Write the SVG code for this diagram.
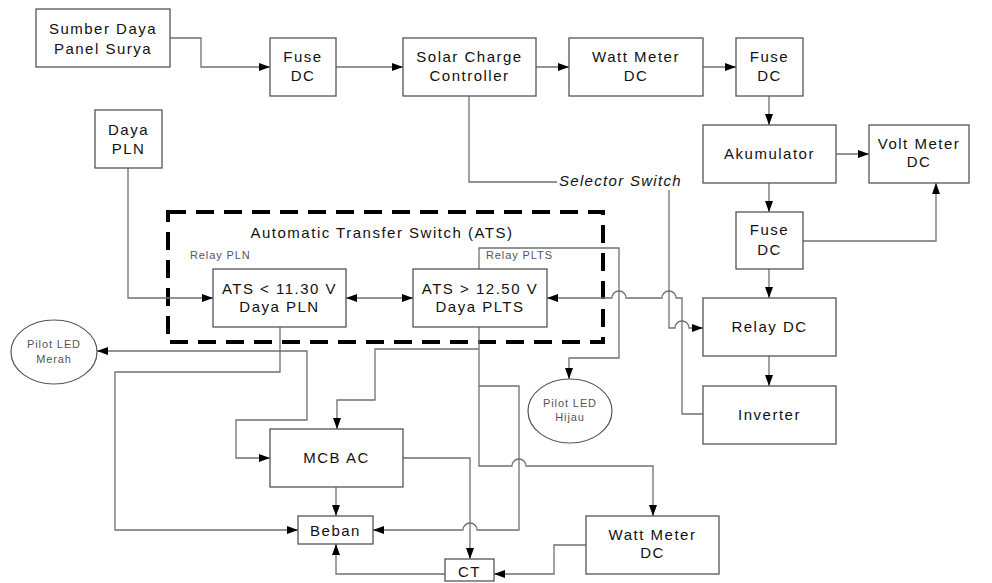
<svg xmlns="http://www.w3.org/2000/svg" width="992" height="583" viewBox="0 0 992 583">
<style>
.box{fill:#fff;stroke:#555;stroke-width:1.3}
.ell{fill:#fff;stroke:#555;stroke-width:1.2}
.ln{fill:none;stroke:#707070;stroke-width:1.3}
.arr{marker-end:url(#ah)}
.t{font-family:"Liberation Sans",Arial,sans-serif;font-size:15px;letter-spacing:1.5px;fill:#111;text-anchor:middle}
.s{font-family:"Liberation Sans",Arial,sans-serif;font-size:11px;letter-spacing:0.9px;fill:#555}
.sc{text-anchor:middle}
.it{font-style:italic;text-anchor:start;letter-spacing:1.3px}
.dash{fill:none;stroke:#000;stroke-width:4;stroke-dasharray:18 10}
</style>
<defs>
<marker id="ah" markerWidth="12" markerHeight="10" refX="11" refY="5" orient="auto" markerUnits="userSpaceOnUse">
<path d="M0,1 L11,5 L0,9 Z" fill="#000"/>
</marker>
<marker id="ahs" markerWidth="12" markerHeight="10" refX="1" refY="5" orient="auto" markerUnits="userSpaceOnUse">
<path d="M12,1 L1,5 L12,9 Z" fill="#000"/>
</marker>
</defs>
<rect width="992" height="583" fill="#fff"/>

<g id="ats-group">
<rect class="dash" x="168" y="212" width="435" height="130"/>
<text class="t" x="382" y="238">Automatic Transfer Switch (ATS)</text>
<text class="s" x="190" y="259">Relay PLN</text>
<text class="s" x="486" y="259">Relay PLTS</text>
</g>

<g id="connectors">
<path class="ln arr" d="M170,38 H201 V67 H270"/>
<path class="ln arr" d="M336,67 H403"/>
<path class="ln arr" d="M536,67 H569"/>
<path class="ln arr" d="M703,67 H736"/>
<path class="ln arr" d="M769,96 V125"/>
<path class="ln arr" d="M836,154 H869"/>
<path class="ln arr" d="M769,183 V212"/>
<path class="ln arr" d="M803,241 H936 V183"/>
<path class="ln arr" d="M769,269 V298"/>
<path class="ln arr" d="M769,356 V386"/>
<path class="ln" d="M469,96 V182 H557"/>
<path class="ln arr" d="M669,190 V328 H675 A7,7 0 0 1 689,328 H703"/>
<path class="ln arr" d="M703,414 H682 V298 H676 A7,7 0 0 0 662,298 H626 A7,7 0 0 0 612,298 H547"/>
<path class="ln arr" d="M128,168 V298 H213"/>
<path class="ln" d="M346,298 H413" marker-start="url(#ahs)" marker-end="url(#ah)"/>
<path class="ln arr" d="M280,327 V372 H115 V530 H298"/>
<path class="ln arr" d="M280,351 H97"/>
<path class="ln arr" d="M280,351 H307 V420 H236 V458 H270"/>
<path class="ln arr" d="M479,327 V466 H512 A7,7 0 0 1 526,466 H653 V516"/>
<path class="ln arr" d="M479,349 H375 V400 H337 V429"/>
<path class="ln arr" d="M479,386 H519 V530 H477 A7,7 0 0 0 463,530 H373"/>
<path class="ln arr" d="M479,269 V248 H619 V358 H569 V379"/>
<path class="ln arr" d="M336,487 V516"/>
<path class="ln arr" d="M403,458 H470 V559"/>
<path class="ln arr" d="M586,545 H554 V574 H494"/>
<path class="ln arr" d="M445,574 H336 V544"/>
<text class="t it" x="559" y="186">Selector Switch</text>
</g>

<g id="sumber"><rect class="box" x="36" y="9" width="134" height="58"/><text class="t" x="103" y="34">Sumber Daya</text><text class="t" x="103" y="54">Panel Surya</text></g>
<g id="fuse1"><rect class="box" x="270" y="38" width="66" height="58"/><text class="t" x="303" y="62">Fuse</text><text class="t" x="303" y="81">DC</text></g>
<g id="scc"><rect class="box" x="403" y="38" width="133" height="58"/><text class="t" x="469.5" y="62">Solar Charge</text><text class="t" x="469.5" y="81">Controller</text></g>
<g id="watt1"><rect class="box" x="569" y="38" width="134" height="58"/><text class="t" x="636" y="62">Watt Meter</text><text class="t" x="636" y="81">DC</text></g>
<g id="fuse2"><rect class="box" x="736" y="38" width="67" height="58"/><text class="t" x="769.5" y="62">Fuse</text><text class="t" x="769.5" y="81">DC</text></g>
<g id="akumulator"><rect class="box" x="703" y="125" width="133" height="58"/><text class="t" x="769.5" y="159">Akumulator</text></g>
<g id="voltmeter"><rect class="box" x="869" y="125" width="100" height="58"/><text class="t" x="919" y="149">Volt Meter</text><text class="t" x="919" y="167">DC</text></g>
<g id="fuse3"><rect class="box" x="736" y="212" width="67" height="57"/><text class="t" x="769.5" y="235">Fuse</text><text class="t" x="769.5" y="255">DC</text></g>
<g id="relaydc"><rect class="box" x="703" y="298" width="133" height="58"/><text class="t" x="769.5" y="332">Relay DC</text></g>
<g id="inverter"><rect class="box" x="703" y="386" width="133" height="58"/><text class="t" x="769.5" y="420">Inverter</text></g>
<g id="dayapln"><rect class="box" x="95" y="110" width="67" height="58"/><text class="t" x="128.5" y="135">Daya</text><text class="t" x="128.5" y="154">PLN</text></g>
<g id="atspln"><rect class="box" x="213" y="269" width="133" height="58"/><text class="t" x="279.5" y="294">ATS &lt; 11.30 V</text><text class="t" x="279.5" y="312">Daya PLN</text></g>
<g id="atsplts"><rect class="box" x="413" y="269" width="134" height="58"/><text class="t" x="480" y="294">ATS &gt; 12.50 V</text><text class="t" x="480" y="312">Daya PLTS</text></g>
<g id="ledmerah"><ellipse class="ell" cx="54" cy="352" rx="43" ry="32"/><text class="s sc" x="54" y="348">Pilot LED</text><text class="s sc" x="54" y="363">Merah</text></g>
<g id="ledhijau"><ellipse class="ell" cx="570" cy="411" rx="42" ry="32"/><text class="s sc" x="570" y="407">Pilot LED</text><text class="s sc" x="570" y="421">Hijau</text></g>
<g id="mcbac"><rect class="box" x="270" y="429" width="133" height="58"/><text class="t" x="336.5" y="463">MCB AC</text></g>
<g id="beban"><rect class="box" x="298" y="516" width="75" height="28"/><text class="t" x="335.5" y="536">Beban</text></g>
<g id="ct"><rect class="box" x="445" y="559" width="49" height="22"/><text class="t" x="469.5" y="577">CT</text></g>
<g id="watt2"><rect class="box" x="586" y="516" width="133" height="58"/><text class="t" x="652.5" y="540">Watt Meter</text><text class="t" x="652.5" y="558">DC</text></g>
</svg>
